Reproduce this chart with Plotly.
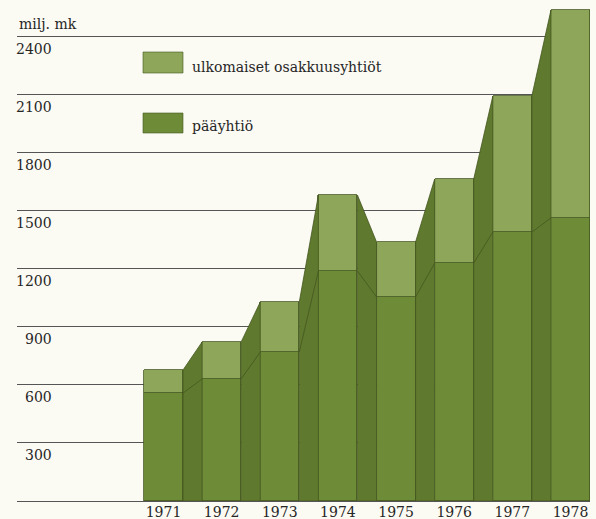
import plotly.graph_objects as go

# ---- data ----
years = [1971, 1972, 1973, 1974, 1975, 1976, 1977, 1978]
paayhtio = [557, 630, 769, 1187, 1053, 1228, 1388, 1461]
ulkomaiset = [119, 191, 258, 392, 284, 434, 702, 1073]
y_ticks = [0, 300, 600, 900, 1200, 1500, 1800, 2100, 2400]
y_tick_labels = ["", "300", "600", "900", "1200", "1500", "1800", "2100", "2400"]
unit_label = "milj. mk"
legend_labels = ["ulkomaiset osakkuusyhtiöt", "pääyhtiö"]

# ---- style ----
W, H = 596, 519
ML, MR, MT, MB = 17, 6, 0, 18
PW, PH = W - ML - MR, H - MT - MB
BG = "#fbfaf3"
C_ULKO = "#8ea65a"
C_PAA = "#6e8c38"
C_SIDE = "#5f792e"
C_EDGE = "#44571f"
C_TEXT = "#262626"
FONT = "DejaVu Serif"
FS = 14
BAR_W = 0.671
px_per_year = 58.14
x_left = 1971 - (163.5 - ML) / px_per_year
x_right = x_left + PW / px_per_year
y_top = PH / 0.19375

totals = [p + u for p, u in zip(paayhtio, ulkomaiset)]

fig = go.Figure()

# connectors (side faces) between bars
cx, cy, lx, ly = [], [], [], []
for i in range(len(years) - 1):
    xa = years[i] + BAR_W / 2
    xb = years[i + 1] - BAR_W / 2
    cx += [xa, xa, xb, xb, xa, None]
    cy += [0, totals[i], totals[i + 1], 0, 0, None]
    lx += [xa, xb, None]
    ly += [paayhtio[i], paayhtio[i + 1], None]

fig.add_trace(go.Scatter(x=cx, y=cy, mode="lines", fill="toself",
                         fillcolor=C_SIDE, line=dict(color=C_EDGE, width=0.8),
                         hoverinfo="skip", showlegend=False))
fig.add_trace(go.Scatter(x=lx, y=ly, mode="lines",
                         line=dict(color=C_EDGE, width=0.8),
                         hoverinfo="skip", showlegend=False))

fig.add_trace(go.Bar(x=years, y=paayhtio, width=BAR_W, name=legend_labels[1],
                     marker=dict(color=C_PAA, line=dict(color=C_EDGE, width=0.8)),
                     showlegend=False))
fig.add_trace(go.Bar(x=years, y=ulkomaiset, width=BAR_W, name=legend_labels[0],
                     marker=dict(color=C_ULKO, line=dict(color=C_EDGE, width=0.8)),
                     showlegend=False))


def px2paper_x(px):
    return (px - ML) / PW


def px2paper_y(py):
    return (H - MB - py) / PH


annotations = []
for v, t in zip(y_ticks, y_tick_labels):
    if t:
        annotations.append(dict(x=px2paper_x(54), xref="paper", xanchor="right",
                                y=v, yref="y", yanchor="middle", yshift=-12.5,
                                text=t, showarrow=False,
                                font=dict(family=FONT, size=FS, color=C_TEXT)))
annotations.append(dict(x=0, xref="paper", xanchor="left", y=2400, yref="y",
                        yanchor="bottom", yshift=2, text=unit_label, showarrow=False,
                        font=dict(family=FONT, size=FS, color=C_TEXT)))

shapes = []
legend_items = [(legend_labels[0], C_ULKO, 52, 73, 67), (legend_labels[1], C_PAA, 113, 133, 126)]
for label, col, ytop, ybot, ytext in legend_items:
    shapes.append(dict(type="rect", xref="paper", yref="paper",
                       x0=px2paper_x(143), x1=px2paper_x(183),
                       y0=px2paper_y(ybot), y1=px2paper_y(ytop),
                       fillcolor=col, line=dict(color=C_EDGE, width=0.6)))
    annotations.append(dict(x=px2paper_x(190), xref="paper", xanchor="left",
                            y=px2paper_y(ytext), yref="paper", yanchor="middle",
                            text=label, showarrow=False,
                            font=dict(family=FONT, size=FS, color=C_TEXT)))

fig.update_layout(
    width=W, height=H,
    margin=dict(l=ML, r=MR, t=MT, b=MB, autoexpand=False),
    paper_bgcolor=BG, plot_bgcolor=BG,
    barmode="stack", bargap=0,
    annotations=annotations, shapes=shapes,
    xaxis=dict(range=[x_left, x_right], tickvals=years, ticktext=[str(y) for y in years],
               showgrid=False, zeroline=False, showline=False, ticks="",
               ticklabelstandoff=1, automargin=False,
               tickfont=dict(family=FONT, size=FS, color=C_TEXT), fixedrange=True),
    yaxis=dict(range=[0, y_top], tickvals=y_ticks, showticklabels=False,
               showgrid=True, gridcolor="#555555", gridwidth=1.4,
               zeroline=True, zerolinecolor="#555555", zerolinewidth=1.4,
               showline=False, ticks="", automargin=False, fixedrange=True),
)

fig.write_html(
    "out.html",
    config={"displayModeBar": False},
    post_script="document.body.style.margin='0';document.body.style.overflow='hidden';"
                "document.body.style.background='" + BG + "';",
)
